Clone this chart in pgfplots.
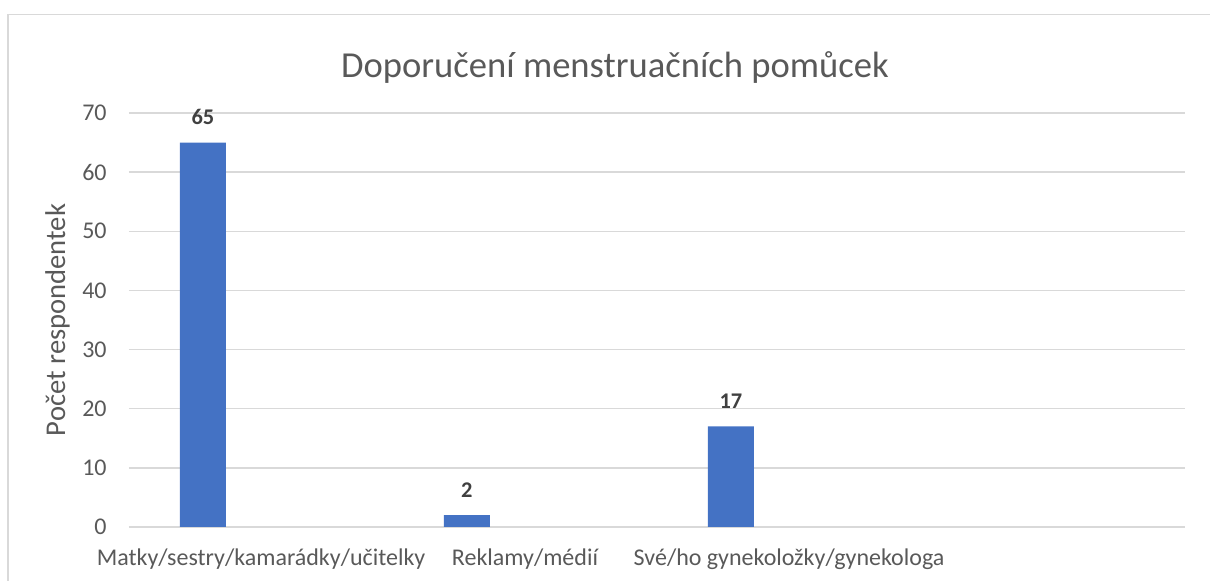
\documentclass[border=0pt]{standalone}
\usepackage{fontspec}
\setmainfont{Carlito}
\usepackage{pgfplots}
\pgfplotsset{compat=1.18}
\definecolor{barblue}{HTML}{4472C4}
\definecolor{txt}{HTML}{595959}
\definecolor{lbl}{HTML}{404040}
\definecolor{gridc}{HTML}{D9D9D9}
\begin{document}
\begin{tikzpicture}[x=1pt,y=1pt]
\useasboundingbox (0,0) rectangle (605,290.5);
\draw[gridc, line width=0.75pt] (4,-1) -- (4,283.15) -- (606,283.15);
\node[anchor=base, text=txt, inner sep=0pt, font=\fontsize{18.3}{22}\selectfont] at (307.5,251.5) {Doporučení menstruačních pomůcek};
\begin{axis}[
  at={(64.5pt,27pt)}, anchor=south west,
  scale only axis, width=528pt, height=207pt,
  xmin=-0.5, xmax=3.5, ymin=0, ymax=70,
  enlargelimits=false, clip=false,
  xtick={0,1,2,3},
  xticklabels={Matky/sestry/kamarádky/učitelky, Reklamy/médií, Své/ho gynekoložky/gynekologa, {}},
  ytick={0,10,...,70},
  axis line style={draw=none},
  tick style={draw=none},
  major tick length=0pt,
  ymajorgrids,
  major grid style={gridc, line width=0.75pt},
  /pgf/number format/assume math mode=true,
  tick label style={text=txt, font=\fontsize{12}{14}\selectfont},
  yticklabel style={anchor=east, inner sep=0pt, xshift=-11pt},
  xticklabel style={anchor=base, inner sep=0pt, yshift=-19.35pt},
  ylabel={Počet respondentek},
  ylabel style={at={(axis description cs:-0.0606,0.5)}, anchor=base, rotate=0, inner sep=0pt, text=txt, font=\fontsize{14.3}{17}\selectfont},
]
\addplot[ybar, fill=barblue, draw=none, bar width=0.174, bar shift=0pt,
  nodes near coords,
  every node near coord/.append style={anchor=base, yshift=9pt, inner sep=0pt, text=lbl, font=\bfseries\fontsize{11.2}{13}\selectfont}]
  coordinates {(-0.22,65) (0.78,2) (1.78,17)};
\end{axis}
\end{tikzpicture}
\end{document}
